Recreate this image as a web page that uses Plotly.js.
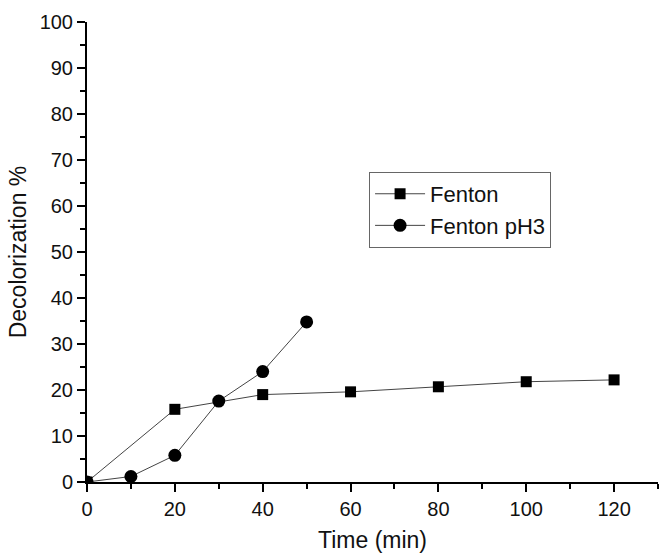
<!DOCTYPE html>
<html>
<head>
<meta charset="utf-8">
<script src="https://cdn.plot.ly/plotly-3.0.1.min.js"></script>
<style>html,body{margin:0;padding:0;background:#fff;}#chart{width:659px;height:555px;}</style>
</head>
<body>
<div id="chart"></div>
<script>
var fentonTime = [0, 20, 40, 60, 80, 100, 120];
var fentonValues = [0, 15.8, 19.0, 19.6, 20.7, 21.8, 22.2];
var ph3Time = [0, 10, 20, 30, 40, 50];
var ph3Values = [0, 1.2, 5.8, 17.6, 24.0, 34.8];
var seriesNames = ["Fenton", "Fenton pH3"];

var font = "Liberation Sans, Arial, sans-serif";
var traces = [
  {x: fentonTime, y: fentonValues, name: seriesNames[0], mode: "lines+markers",
   line: {color: "#444", width: 1}, marker: {symbol: "square", size: 11, color: "#000"}},
  {x: ph3Time, y: ph3Values, name: seriesNames[1], mode: "lines+markers",
   line: {color: "#444", width: 1}, marker: {symbol: "circle", size: 13, color: "#000"}}
];
var axisCommon = {
  showgrid: false, zeroline: false, showline: true, linecolor: "#000", linewidth: 2,
  ticks: "outside", ticklen: 8, tickwidth: 2, tickcolor: "#000",
  tickfont: {family: font, size: 20, color: "#111"}
};
var layout = {
  width: 659, height: 555,
  margin: {l: 87, r: 1, t: 22, b: 73},
  paper_bgcolor: "#fff", plot_bgcolor: "#fff",
  font: {family: font, color: "#111"},
  xaxis: Object.assign({}, axisCommon, {
    range: [0, 130], tickvals: [0, 20, 40, 60, 80, 100, 120],
    minor: {dtick: 10, tick0: 0, ticks: "outside", ticklen: 5, tickwidth: 2, tickcolor: "#000"},
    title: {text: "Time (min)", font: {family: font, size: 23, color: "#111"}, standoff: 13}
  }),
  yaxis: Object.assign({}, axisCommon, {
    range: [0, 100], dtick: 10,
    minor: {dtick: 5, tick0: 0, ticks: "outside", ticklen: 5, tickwidth: 2, tickcolor: "#000"},
    title: {text: "Decolorization %", font: {family: font, size: 23, color: "#111"}, standoff: 7}
  }),
  showlegend: true,
  legend: {x: 0.494, y: 0.674, xanchor: "left", yanchor: "top",
    bordercolor: "#666", borderwidth: 1, bgcolor: "#fff", itemwidth: 50,
    font: {family: font, size: 22, color: "#111"}, tracegroupgap: 0}
};
Plotly.newPlot("chart", traces, layout, {displayModeBar: false, staticPlot: true});
</script>
</body>
</html>
